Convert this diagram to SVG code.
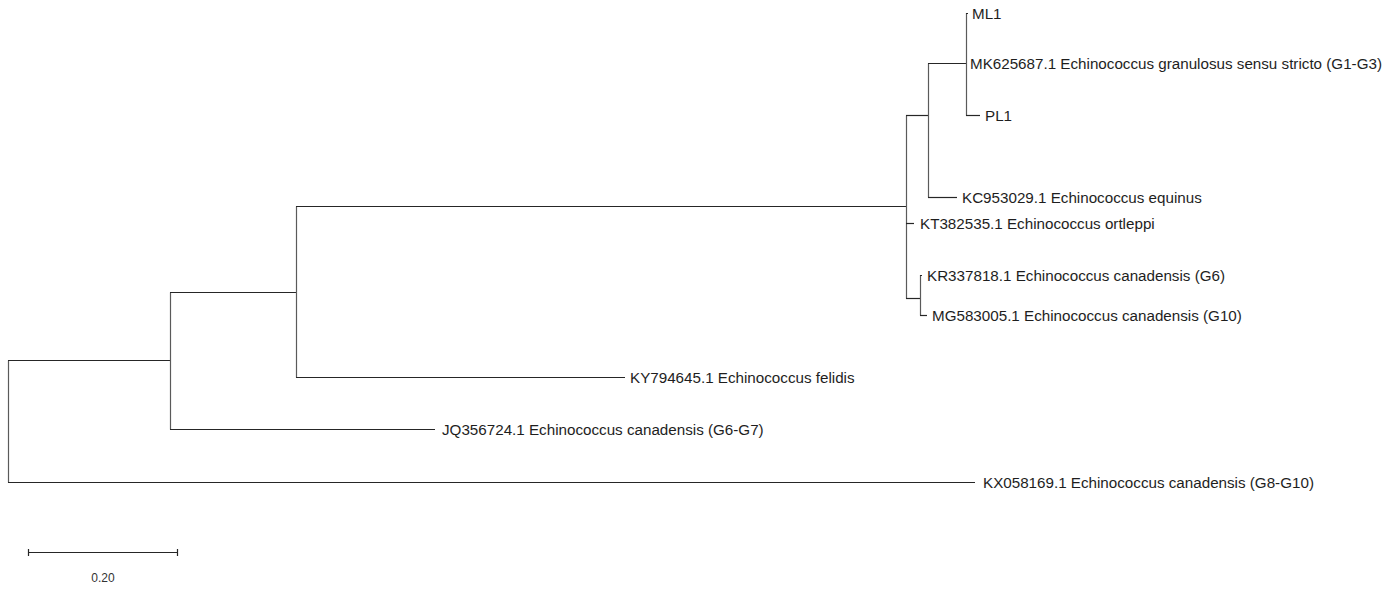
<svg xmlns="http://www.w3.org/2000/svg" width="1392" height="590" viewBox="0 0 1392 590">
<style>
.br{fill:none;stroke:#262626;stroke-width:1.2}
.v{stroke:#5a5a5a}
.lb{font-family:"Liberation Sans",Arial,sans-serif;font-size:15.2px;fill:#1e1e1e}
.sc{font-family:"Liberation Sans",Arial,sans-serif;font-size:12px;fill:#333}
</style>
<rect width="1392" height="590" fill="#fff"/>
<g id="connectors">
<!-- root -->
<line class="br v" x1="8.5" y1="360.5" x2="8.5" y2="482.5"/>
<line class="br" x1="8" y1="482.5" x2="975" y2="482.5"/>
<line class="br" x1="8" y1="360.5" x2="170.5" y2="360.5"/>
<!-- node 170 -->
<line class="br v" x1="170.5" y1="292.5" x2="170.5" y2="429.5"/>
<line class="br" x1="170" y1="429.5" x2="435" y2="429.5"/>
<line class="br" x1="170" y1="292.5" x2="296.5" y2="292.5"/>
<!-- node 296 -->
<line class="br v" x1="296.5" y1="206.5" x2="296.5" y2="377.5"/>
<line class="br" x1="296" y1="377.5" x2="625" y2="377.5"/>
<line class="br" x1="296" y1="206.5" x2="906.5" y2="206.5"/>
<!-- node 906 -->
<line class="br v" x1="906.5" y1="115.5" x2="906.5" y2="298.5"/>
<line class="br" x1="906" y1="223.5" x2="914" y2="223.5"/>
<line class="br" x1="906" y1="115.5" x2="928.5" y2="115.5"/>
<line class="br" x1="906" y1="298.5" x2="920.5" y2="298.5"/>
<!-- node 920 -->
<line class="br v" x1="920.5" y1="275" x2="920.5" y2="315.5"/>
<line class="br" x1="920" y1="275.5" x2="922" y2="275.5"/>
<line class="br" x1="920" y1="315.5" x2="927" y2="315.5"/>
<!-- node 928 -->
<line class="br v" x1="928.5" y1="63.5" x2="928.5" y2="197.5"/>
<line class="br" x1="928" y1="197.5" x2="957" y2="197.5"/>
<line class="br" x1="928" y1="63.5" x2="966.5" y2="63.5"/>
<!-- node 966 -->
<line class="br v" x1="966.5" y1="13" x2="966.5" y2="115.5"/>
<line class="br" x1="966" y1="13.5" x2="968" y2="13.5"/>
<line class="br" x1="966" y1="115.5" x2="980" y2="115.5"/>
</g>
<g id="ML1"><text class="lb" x="972" y="19">ML1</text></g>
<g id="MK625687"><text class="lb" x="970" y="69">MK625687.1 Echinococcus granulosus sensu stricto (G1-G3)</text></g>
<g id="PL1"><text class="lb" x="985" y="121">PL1</text></g>
<g id="KC953029"><text class="lb" x="962" y="203">KC953029.1 Echinococcus equinus</text></g>
<g id="KT382535"><text class="lb" x="920" y="229">KT382535.1 Echinococcus ortleppi</text></g>
<g id="KR337818"><text class="lb" x="927" y="281">KR337818.1 Echinococcus canadensis (G6)</text></g>
<g id="MG583005"><text class="lb" x="932" y="321">MG583005.1 Echinococcus canadensis (G10)</text></g>
<g id="KY794645"><text class="lb" x="630" y="383">KY794645.1 Echinococcus felidis</text></g>
<g id="JQ356724"><text class="lb" x="442" y="435">JQ356724.1 Echinococcus canadensis (G6-G7)</text></g>
<g id="KX058169"><text class="lb" x="983" y="488">KX058169.1 Echinococcus canadensis (G8-G10)</text></g>
<g id="scale">
<line class="br" x1="28.5" y1="552.5" x2="177.5" y2="552.5"/>
<line class="br" x1="28.5" y1="549" x2="28.5" y2="556"/>
<line class="br" x1="177.5" y1="549" x2="177.5" y2="556"/>
<text class="sc" x="103" y="582" text-anchor="middle">0.20</text>
</g>
</svg>
